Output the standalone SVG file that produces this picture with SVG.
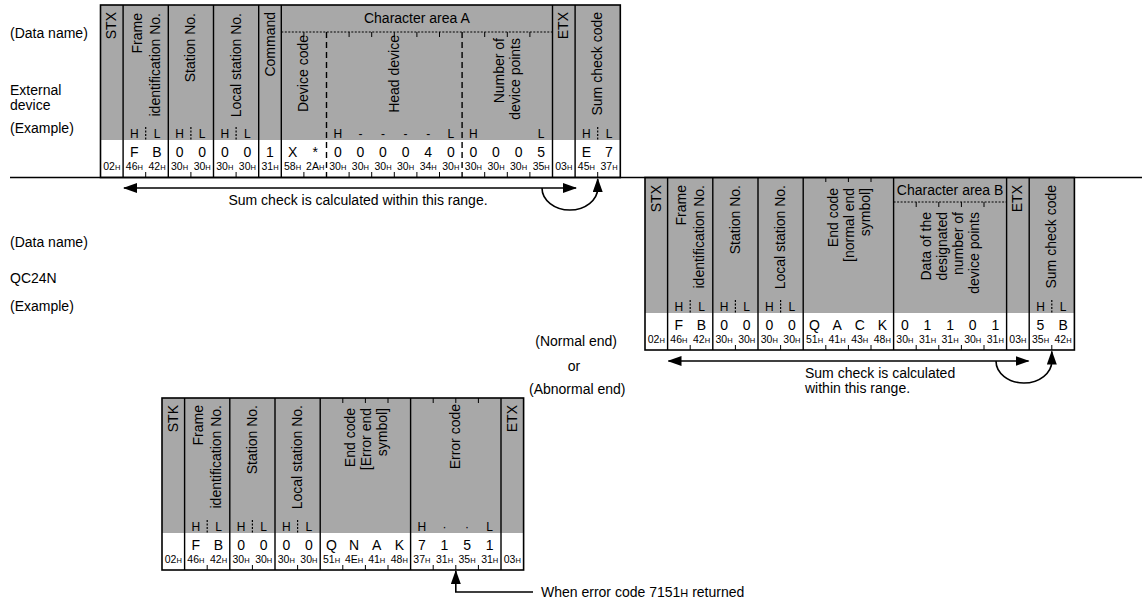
<svg xmlns="http://www.w3.org/2000/svg" width="1142" height="602" viewBox="0 0 1142 602">
<style>
text { font-family: "Liberation Sans", Arial, Helvetica, sans-serif; fill: #000; }
.lbl { font-size: 14px; }
.r { font-size: 14px; text-anchor: end; }
.v { font-size: 14px; text-anchor: middle; }
.hx { font-size: 10.5px; text-anchor: middle; }
.hs { font-size: 7.5px; }
.hl { font-size: 12px; text-anchor: middle; }
.ca { font-size: 14px; text-anchor: middle; }
.shade { fill: #a8a8a8; }
.box { fill: none; stroke: #000; stroke-width: 1.6; }
.ln { stroke: #000; stroke-width: 1.4; fill: none; }
.dash { stroke: #000; stroke-width: 1.4; stroke-dasharray: 6 4; fill: none; }
.dot { stroke: #000; stroke-width: 1.2; stroke-dasharray: 2 1.5; fill: none; }
.tk { stroke: #000; stroke-width: 1; fill: none; }
.con { stroke: #000; stroke-width: 1.6; fill: none; }
</style>
<defs>
<marker id="ah" markerWidth="14" markerHeight="10" refX="13" refY="5" orient="auto-start-reverse" markerUnits="userSpaceOnUse"><path d="M0,0 L14,5 L0,10 Z" fill="#000"/></marker>
</defs>

<g id="row-labels">
<text class="lbl" x="10" y="38">(Data name)</text>
<text class="lbl" x="10" y="95">External</text>
<text class="lbl" x="10" y="110">device</text>
<text class="lbl" x="10" y="133">(Example)</text>
<text class="lbl" x="10" y="247">(Data name)</text>
<text class="lbl" x="10" y="283">QC24N</text>
<text class="lbl" x="10" y="311">(Example)</text>
</g>

<g id="frame-external">
<rect class="shade" x="100.5" y="5" width="519.8" height="135"/>
<rect class="box" x="100.5" y="5" width="519.8" height="172.5"/>
<path class="ln" d="M123.1 5V177.5M168.3 5V177.5M213.5 5V177.5M258.7 5V177.5M281.3 5V177.5M552.5 5V177.5M575.1 5V177.5"/>
<path class="dash" d="M326.5 32V177.5M462.1 32V177.5"/>
<path class="dot" d="M281.3 32H552.5"/>
<path class="tk" d="M303.9 32V37M349.1 32V37M371.7 32V37M394.3 32V37M416.9 32V37M439.5 32V37M484.7 32V37M507.3 32V37M529.9 32V37"/>
<path class="tk" d="M145.7 172V177.5M190.9 172V177.5M236.1 172V177.5M303.9 172V177.5M349.1 172V177.5M371.7 172V177.5M394.3 172V177.5M416.9 172V177.5M439.5 172V177.5M484.7 172V177.5M507.3 172V177.5M529.9 172V177.5M597.7 172V177.5"/>
<path class="dot" d="M145.7 127V140M190.9 127V140M236.1 127V140M597.7 127V140"/>
<text class="ca" x="416.9" y="23">Character area A</text>
<text class="r" transform="translate(116.3,12) rotate(-90)">STX</text>
<text class="r" transform="translate(141.5,13) rotate(-90)">Frame</text>
<text class="r" transform="translate(159.5,13) rotate(-90)">identification No.</text>
<text class="r" transform="translate(195.4,13) rotate(-90)">Station No.</text>
<text class="r" transform="translate(240.6,13) rotate(-90)">Local station No.</text>
<text class="r" transform="translate(274.5,12) rotate(-90)">Command</text>
<text class="r" transform="translate(308.4,35) rotate(-90)">Device code</text>
<text class="r" transform="translate(398.8,35) rotate(-90)">Head device</text>
<text class="r" transform="translate(503.5,38) rotate(-90)">Number of</text>
<text class="r" transform="translate(519.5,38) rotate(-90)">device points</text>
<text class="r" transform="translate(568.3,12) rotate(-90)">ETX</text>
<text class="r" transform="translate(602.2,12) rotate(-90)">Sum check code</text>
<text class="hl" x="134.4 157 179.6 202.2 224.8 247.4 337.8 360.4 383 405.6 428.2 450.8 473.4 541.2 586.4 609" y="137.5">HLHLHLH----LHLHL</text>
<text class="v" x="134.4 157 179.6 202.2 224.8 247.4 270 292.6 315.2 337.8 360.4 383 405.6 428.2 450.8 473.4 496 518.6 541.2 586.4 609" y="157">FB00001X*0000400005E7</text>
<text class="hx" x="111.8" y="170">02<tspan class="hs">H</tspan></text>
<text class="hx" x="134.4" y="170">46<tspan class="hs">H</tspan></text>
<text class="hx" x="157" y="170">42<tspan class="hs">H</tspan></text>
<text class="hx" x="179.6" y="170">30<tspan class="hs">H</tspan></text>
<text class="hx" x="202.2" y="170">30<tspan class="hs">H</tspan></text>
<text class="hx" x="224.8" y="170">30<tspan class="hs">H</tspan></text>
<text class="hx" x="247.4" y="170">30<tspan class="hs">H</tspan></text>
<text class="hx" x="270" y="170">31<tspan class="hs">H</tspan></text>
<text class="hx" x="292.6" y="170">58<tspan class="hs">H</tspan></text>
<text class="hx" x="315.2" y="170">2A<tspan class="hs">H</tspan></text>
<text class="hx" x="337.8" y="170">30<tspan class="hs">H</tspan></text>
<text class="hx" x="360.4" y="170">30<tspan class="hs">H</tspan></text>
<text class="hx" x="383" y="170">30<tspan class="hs">H</tspan></text>
<text class="hx" x="405.6" y="170">30<tspan class="hs">H</tspan></text>
<text class="hx" x="428.2" y="170">34<tspan class="hs">H</tspan></text>
<text class="hx" x="450.8" y="170">30<tspan class="hs">H</tspan></text>
<text class="hx" x="473.4" y="170">30<tspan class="hs">H</tspan></text>
<text class="hx" x="496" y="170">30<tspan class="hs">H</tspan></text>
<text class="hx" x="518.6" y="170">30<tspan class="hs">H</tspan></text>
<text class="hx" x="541.2" y="170">35<tspan class="hs">H</tspan></text>
<text class="hx" x="563.8" y="170">03<tspan class="hs">H</tspan></text>
<text class="hx" x="586.4" y="170">45<tspan class="hs">H</tspan></text>
<text class="hx" x="609" y="170">37<tspan class="hs">H</tspan></text>
</g>

<g id="frame-normal">
<rect class="shade" x="645" y="177.5" width="429.4" height="135.5"/>
<rect class="box" x="645" y="177.5" width="429.4" height="172.5"/>
<path class="ln" d="M667.6 177.5V350M712.8 177.5V350M758 177.5V350M803.2 177.5V350M893.6 177.5V350M1006.6 177.5V350M1029.2 177.5V350"/>
<path class="dot" d="M893.6 202H1006.6"/>
<path class="tk" d="M916.2 202V207M938.8 202V207M961.4 202V207M984 202V207M825.8 177.5V182M848.4 177.5V182M871 177.5V182"/>
<path class="tk" d="M690.2 345V350M735.4 345V350M780.6 345V350M825.8 345V350M848.4 345V350M871 345V350M916.2 345V350M938.8 345V350M961.4 345V350M984 345V350M1051.8 345V350"/>
<path class="dot" d="M690.2 300V313M735.4 300V313M780.6 300V313M1051.8 300V313"/>
<text class="ca" x="950.1" y="195">Character area B</text>
<text class="r" transform="translate(660.8,185) rotate(-90)">STX</text>
<text class="r" transform="translate(686,185) rotate(-90)">Frame</text>
<text class="r" transform="translate(704,185) rotate(-90)">identification No.</text>
<text class="r" transform="translate(739.9,185) rotate(-90)">Station No.</text>
<text class="r" transform="translate(785.1,185) rotate(-90)">Local station No.</text>
<text class="r" transform="translate(837.5,188) rotate(-90)">End code</text>
<text class="r" transform="translate(853.5,188) rotate(-90)">[normal end</text>
<text class="r" transform="translate(869.5,188) rotate(-90)">symbol]</text>
<text class="r" transform="translate(930.5,212) rotate(-90)">Data of the</text>
<text class="r" transform="translate(946.5,212) rotate(-90)">designated</text>
<text class="r" transform="translate(962.5,212) rotate(-90)">number of</text>
<text class="r" transform="translate(978.5,212) rotate(-90)">device points</text>
<text class="r" transform="translate(1022.4,185) rotate(-90)">ETX</text>
<text class="r" transform="translate(1056.3,185) rotate(-90)">Sum check code</text>
<text class="hl" x="678.9 701.5 724.1 746.7 769.3 791.9 1040.5 1063.1" y="310.5">HLHLHLHL</text>
<text class="v" x="678.9 701.5 724.1 746.7 769.3 791.9 814.5 837.1 859.7 882.3 904.9 927.5 950.1 972.7 995.3 1040.5 1063.1" y="330">FB0000QACK011015B</text>
<text class="hx" x="656.3" y="343">02<tspan class="hs">H</tspan></text>
<text class="hx" x="678.9" y="343">46<tspan class="hs">H</tspan></text>
<text class="hx" x="701.5" y="343">42<tspan class="hs">H</tspan></text>
<text class="hx" x="724.1" y="343">30<tspan class="hs">H</tspan></text>
<text class="hx" x="746.7" y="343">30<tspan class="hs">H</tspan></text>
<text class="hx" x="769.3" y="343">30<tspan class="hs">H</tspan></text>
<text class="hx" x="791.9" y="343">30<tspan class="hs">H</tspan></text>
<text class="hx" x="814.5" y="343">51<tspan class="hs">H</tspan></text>
<text class="hx" x="837.1" y="343">41<tspan class="hs">H</tspan></text>
<text class="hx" x="859.7" y="343">43<tspan class="hs">H</tspan></text>
<text class="hx" x="882.3" y="343">48<tspan class="hs">H</tspan></text>
<text class="hx" x="904.9" y="343">30<tspan class="hs">H</tspan></text>
<text class="hx" x="927.5" y="343">31<tspan class="hs">H</tspan></text>
<text class="hx" x="950.1" y="343">31<tspan class="hs">H</tspan></text>
<text class="hx" x="972.7" y="343">30<tspan class="hs">H</tspan></text>
<text class="hx" x="995.3" y="343">31<tspan class="hs">H</tspan></text>
<text class="hx" x="1017.9" y="343">03<tspan class="hs">H</tspan></text>
<text class="hx" x="1040.5" y="343">35<tspan class="hs">H</tspan></text>
<text class="hx" x="1063.1" y="343">42<tspan class="hs">H</tspan></text>
</g>

<g id="frame-abnormal">
<rect class="shade" x="162" y="398" width="361.6" height="135"/>
<rect class="box" x="162" y="398" width="361.6" height="172"/>
<path class="ln" d="M184.6 398V570M229.8 398V570M275 398V570M320.2 398V570M410.6 398V570M501 398V570"/>
<path class="tk" d="M342.8 398V403M365.4 398V403M388 398V403M433.2 398V403M455.8 398V403M478.4 398V403"/>
<path class="tk" d="M207.2 565V570M252.4 565V570M297.6 565V570M342.8 565V570M365.4 565V570M388 565V570M433.2 565V570M455.8 565V570M478.4 565V570"/>
<path class="dot" d="M207.2 520V533M252.4 520V533M297.6 520V533"/>
<text class="r" transform="translate(177.8,405) rotate(-90)">STK</text>
<text class="r" transform="translate(203.1,405) rotate(-90)">Frame</text>
<text class="r" transform="translate(221.1,405) rotate(-90)">identification No.</text>
<text class="r" transform="translate(256.9,405) rotate(-90)">Station No.</text>
<text class="r" transform="translate(302.1,405) rotate(-90)">Local station No.</text>
<text class="r" transform="translate(354.5,408) rotate(-90)">End code</text>
<text class="r" transform="translate(370.5,408) rotate(-90)">[Error end</text>
<text class="r" transform="translate(386.5,408) rotate(-90)">symbol]</text>
<text class="r" transform="translate(460.3,404) rotate(-90)">Error code</text>
<text class="r" transform="translate(516.8,405) rotate(-90)">ETX</text>
<text class="hl" x="195.9 218.5 241.1 263.7 286.3 308.9 421.9 444.5 467.1 489.7" y="530.5">HLHLHLH··L</text>
<text class="v" x="195.9 218.5 241.1 263.7 286.3 308.9 331.5 354.1 376.7 399.3 421.9 444.5 467.1 489.7" y="550">FB0000QNAK7151</text>
<text class="hx" x="173.3" y="563">02<tspan class="hs">H</tspan></text>
<text class="hx" x="195.9" y="563">46<tspan class="hs">H</tspan></text>
<text class="hx" x="218.5" y="563">42<tspan class="hs">H</tspan></text>
<text class="hx" x="241.1" y="563">30<tspan class="hs">H</tspan></text>
<text class="hx" x="263.7" y="563">30<tspan class="hs">H</tspan></text>
<text class="hx" x="286.3" y="563">30<tspan class="hs">H</tspan></text>
<text class="hx" x="308.9" y="563">30<tspan class="hs">H</tspan></text>
<text class="hx" x="331.5" y="563">51<tspan class="hs">H</tspan></text>
<text class="hx" x="354.1" y="563">4E<tspan class="hs">H</tspan></text>
<text class="hx" x="376.7" y="563">41<tspan class="hs">H</tspan></text>
<text class="hx" x="399.3" y="563">48<tspan class="hs">H</tspan></text>
<text class="hx" x="421.9" y="563">37<tspan class="hs">H</tspan></text>
<text class="hx" x="444.5" y="563">31<tspan class="hs">H</tspan></text>
<text class="hx" x="467.1" y="563">35<tspan class="hs">H</tspan></text>
<text class="hx" x="489.7" y="563">31<tspan class="hs">H</tspan></text>
<text class="hx" x="512.3" y="563">03<tspan class="hs">H</tspan></text>
</g>

<g id="connectors">
<path class="con" d="M10 177.5H1142"/>
<path class="con" d="M124 188H576" marker-start="url(#ah)" marker-end="url(#ah)"/>
<path class="con" d="M542 188A27.85 22 0 0 0 597.7 188V179" marker-end="url(#ah)"/>
<path class="con" d="M668.5 361H1028.5" marker-start="url(#ah)" marker-end="url(#ah)"/>
<path class="con" d="M996 361A27.9 22 0 0 0 1051.8 361V351.5" marker-end="url(#ah)"/>
<path class="con" d="M533 592H455.8V571" marker-end="url(#ah)"/>
</g>

<g id="notes">
<text class="ca" x="358" y="205">Sum check is calculated within this range.</text>
<text class="lbl" x="805" y="378">Sum check is calculated</text>
<text class="lbl" x="805" y="393">within this range.</text>
<text class="lbl" x="617" y="346" text-anchor="end">(Normal end)</text>
<text class="lbl" x="574" y="371" text-anchor="middle">or</text>
<text class="lbl" x="529" y="394">(Abnormal end)</text>
<text class="lbl" x="541" y="597">When error code 7151<tspan font-size="11px">H</tspan> returned</text>
</g>
</svg>
